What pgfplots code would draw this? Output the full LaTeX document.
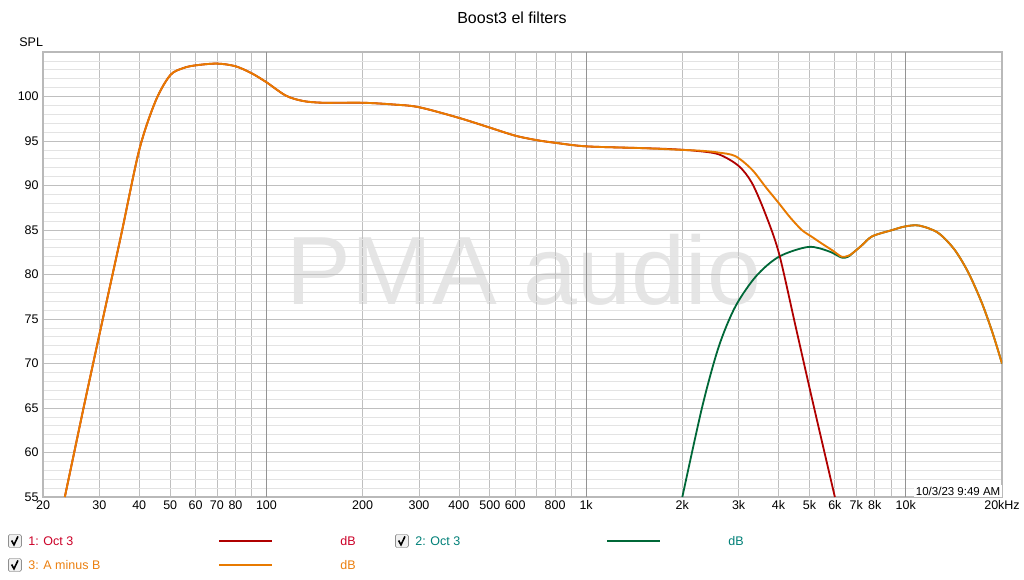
\documentclass[border=0pt]{standalone}
\usepackage{pgfplots}
\pgfplotsset{compat=1.18}
\usepackage{fontspec}
\setmainfont{Liberation Sans}

\definecolor{reddat}{RGB}{176,0,0}
\definecolor{redtxt}{RGB}{204,0,40}
\definecolor{grndat}{RGB}{0,104,56}
\definecolor{grntxt}{RGB}{0,128,120}
\definecolor{orgdat}{RGB}{232,122,0}
\definecolor{orgtxt}{RGB}{236,128,16}

% responses (Hz, dB)
\pgfplotstableread{
f     db
23.4  55
25    59.9
27    65.6
30    73.2
35    84.2
40    94.0
45    99.5
50    102.4
55    103.2
60    103.5
70    103.7
80    103.4
90    102.6
100   101.6
115   100.1
130   99.5
150   99.3
200   99.3
250   99.1
300   98.8
400   97.6
500   96.5
600   95.6
700   95.1
800   94.8
1000  94.4
1500  94.2
2000  94.0
2300  93.9
2600  93.7
2930  93.3
3300  91.8
3650  89.8
4010  88.0
4350  86.4
4730  85.0
5100  84.2
5450  83.5
5900  82.7
6300  82.0
6600  82.1
6820  82.4
7300  83.3
7860  84.3
9080  85.0
9950  85.4
11000 85.5
12600 84.7
14200 82.8
15700 80.2
17300 76.8
18700 73.4
20000 70.0
}\amb

\pgfplotstableread{
f     db
23.4  55
25    59.9
27    65.6
30    73.2
35    84.2
40    94.0
45    99.5
50    102.4
55    103.2
60    103.5
70    103.7
80    103.4
90    102.6
100   101.6
115   100.1
130   99.5
150   99.3
200   99.3
250   99.1
300   98.8
400   97.6
500   96.5
600   95.6
700   95.1
800   94.8
1000  94.4
1500  94.2
1820  94.1
2200  93.9
2600  93.5
3000  92.2
3300  90.3
3630  86.9
4010  82.4
4520  74.2
5100  65.9
6000  55
}\low

\pgfplotstableread{
f     db
2000  55
2310  65.2
2600  71.9
2930  76.4
3400  79.8
4010  82.0
4960  83.1
5750  82.6
6300  81.9
6600  82.0
6820  82.4
7300  83.3
7860  84.3
9080  85.0
9950  85.4
11000 85.5
12600 84.7
14200 82.8
15700 80.2
17300 76.8
18700 73.4
20000 70.0
}\high

\newcommand{\chk}{\tikz[baseline=-0.5ex]{\draw[gray!70!black,fill=gray!12,rounded corners=1.5bp] (0,-6.5bp) rectangle (13bp,6.5bp);
  \draw[black, line width=1.6bp] (3.2bp,0.5bp) -- (5.6bp,-3.8bp) -- (9.6bp,4.6bp);}}

\begin{document}
\begin{tikzpicture}
\fontsize{12.5bp}{15bp}\selectfont
\path[use as bounding box, fill=white] (0,0) rectangle (1024bp,-580bp);

\node[font=\fontsize{16bp}{18bp}\selectfont] at (512bp,-18bp) {Boost3 el filters};
\node[anchor=west] at (15bp,-42bp) {SPL};

% watermark, under the grid
\node[text=gray!20, font=\fontsize{97bp}{100bp}\selectfont, inner sep=0pt] at (524bp,-270bp) {PMA audio};

\begin{axis}[
  at={(43bp,-497bp)}, anchor=south west,
  scale only axis, width=959bp, height=445bp,
  xmode=log, xmin=20, xmax=20000, ymin=55, ymax=105,
  log basis x=10,
  xtick={20,30,40,50,60,70,80,90,100,200,300,400,500,600,700,800,900,1000,2000,3000,4000,5000,6000,7000,8000,9000,10000,20000},
  xticklabels={20,30,40,50,60,70,80,,100,200,300,400,500,600,,800,,1k,2k,3k,4k,5k,6k,7k,8k,,10k,20kHz},
  ytick={55,60,...,100},
  minor ytick={56,...,104},
  extra x ticks={100,1000,10000}, extra x tick labels={},
  extra x tick style={grid=major, major grid style={draw=gray!85, line width=0.8bp}},
  grid=both,
  major grid style={draw=gray!50, line width=0.8bp},
  minor grid style={draw=gray!22, line width=0.8bp},
  major tick length=0pt, minor tick length=0pt,
  axis line style={draw=gray!55, line width=2.5bp},
  tick label style={font=\fontsize{12.5bp}{15bp}\selectfont},
  /pgf/number format/assume math mode=true,
  xticklabel style={yshift=1bp},
  clip=true,
]
\addplot[grndat, line width=1.8bp, smooth, tension=0.5] table[x=f,y=db] {\high};
\addplot[reddat, line width=1.8bp, smooth, tension=0.5] table[x=f,y=db] {\low};
\addplot[orgdat, line width=1.9bp, smooth, tension=0.5] table[x=f,y=db] {\amb};
\node[anchor=south east, fill=white, inner sep=1.5bp, font=\fontsize{11.5bp}{13bp}\selectfont] at (rel axis cs:1,0) {10/3/23 9:49 AM};
\end{axis}

% legend
\node[anchor=west, inner sep=0pt] at (8bp,-541bp) {\chk};
\node[anchor=west, text=redtxt] at (24bp,-541bp) {1: Oct 3};
\draw[reddat, line width=2.2bp] (219bp,-541bp) -- (272bp,-541bp);
\node[text=redtxt] at (348bp,-541bp) {dB};

\node[anchor=west, inner sep=0pt] at (395bp,-541bp) {\chk};
\node[anchor=west, text=grntxt] at (411bp,-541bp) {2: Oct 3};
\draw[grndat, line width=2.2bp] (607bp,-541bp) -- (660bp,-541bp);
\node[text=grntxt] at (736bp,-541bp) {dB};

\node[anchor=west, inner sep=0pt] at (8bp,-565bp) {\chk};
\node[anchor=west, text=orgtxt] at (24bp,-565bp) {3: A minus B};
\draw[orgdat, line width=2.2bp] (219bp,-565bp) -- (272bp,-565bp);
\node[text=orgtxt] at (348bp,-565bp) {dB};
\end{tikzpicture}
\end{document}
